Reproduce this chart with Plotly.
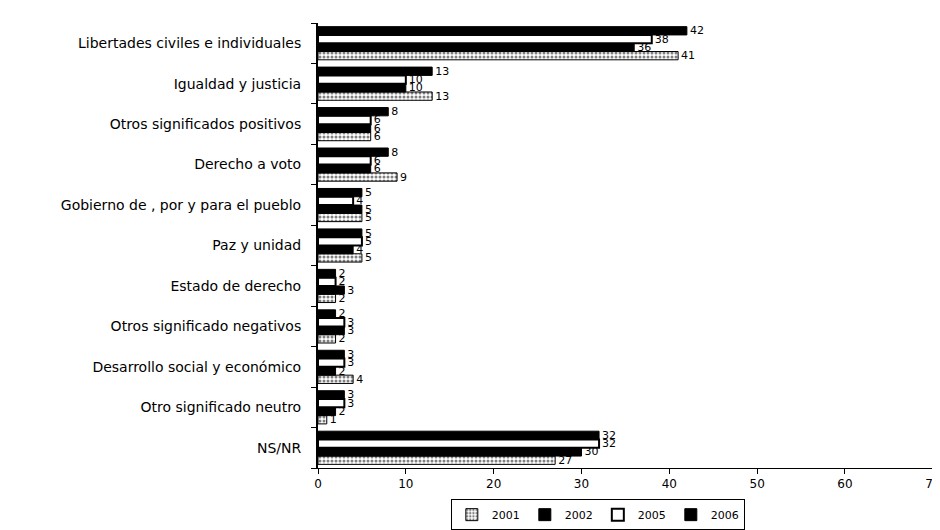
import plotly.graph_objects as go

# categorías (de arriba hacia abajo en el gráfico)
categorias = [
    "Libertades civiles e individuales",
    "Igualdad y justicia",
    "Otros significados positivos",
    "Derecho a voto",
    "Gobierno de , por y para el pueblo",
    "Paz y unidad",
    "Estado de derecho",
    "Otros significado negativos",
    "Desarrollo social y económico",
    "Otro significado neutro",
    "NS/NR",
]

v2001 = [41, 13, 6, 9, 5, 5, 2, 2, 4, 1, 27]
v2002 = [36, 10, 6, 6, 5, 4, 3, 3, 2, 2, 30]
v2005 = [38, 10, 6, 6, 4, 5, 2, 3, 3, 3, 32]
v2006 = [42, 13, 8, 8, 5, 5, 2, 2, 3, 3, 32]

x_ticks = [0, 10, 20, 30, 40, 50, 60, 70]

# plotly dibuja la primera categoría abajo: invertimos el orden
cats = categorias[::-1]

def rev(v):
    return v[::-1]

fig = go.Figure()

fig.add_trace(go.Bar(
    y=cats, x=rev(v2001), name="2001", orientation="h",
    marker=dict(color="white", line=dict(color="black", width=1),
                pattern=dict(shape=".", fgcolor="black", bgcolor="white", size=4, solidity=0.45)),
    text=rev(v2001),
))
fig.add_trace(go.Bar(
    y=cats, x=rev(v2002), name="2002", orientation="h",
    marker=dict(color="black", line=dict(color="black", width=1)),
    text=rev(v2002),
))
fig.add_trace(go.Bar(
    y=cats, x=rev(v2005), name="2005", orientation="h",
    marker=dict(color="white", line=dict(color="black", width=2)),
    text=rev(v2005),
))
fig.add_trace(go.Bar(
    y=cats, x=rev(v2006), name="2006", orientation="h",
    marker=dict(color="black", line=dict(color="black", width=1)),
    text=rev(v2006),
))

fig.update_traces(
    textposition="outside", cliponaxis=False, constraintext="none",
    textfont=dict(size=11, color="black"),
)

fig.update_layout(
    width=940, height=530,
    barmode="group", bargap=0.18, bargroupgap=0,
    plot_bgcolor="white", paper_bgcolor="white",
    font=dict(family="DejaVu Sans, sans-serif", size=12, color="black"),
    margin=dict(l=310, r=8, t=15, b=62),
    showlegend=True,
    legend=dict(
        orientation="h", x=0.455, xanchor="center", y=-0.07, yanchor="top",
        bordercolor="black", borderwidth=1, font=dict(size=11),
        traceorder="normal", itemwidth=30, tracegroupgap=0,
    ),
)

fig.update_xaxes(
    range=[0, 70.02], tickvals=x_ticks, showgrid=False, zeroline=False,
    showline=True, linecolor="black", linewidth=1,
    ticks="outside", ticklen=5, tickcolor="black",
)
fig.update_yaxes(
    showgrid=False, showline=True, linecolor="black", linewidth=2,
    ticks="outside", ticklen=5, tickcolor="black", tickson="boundaries",
    ticklabelstandoff=12, tickfont=dict(size=14),
)

fig.write_html("out.html")
